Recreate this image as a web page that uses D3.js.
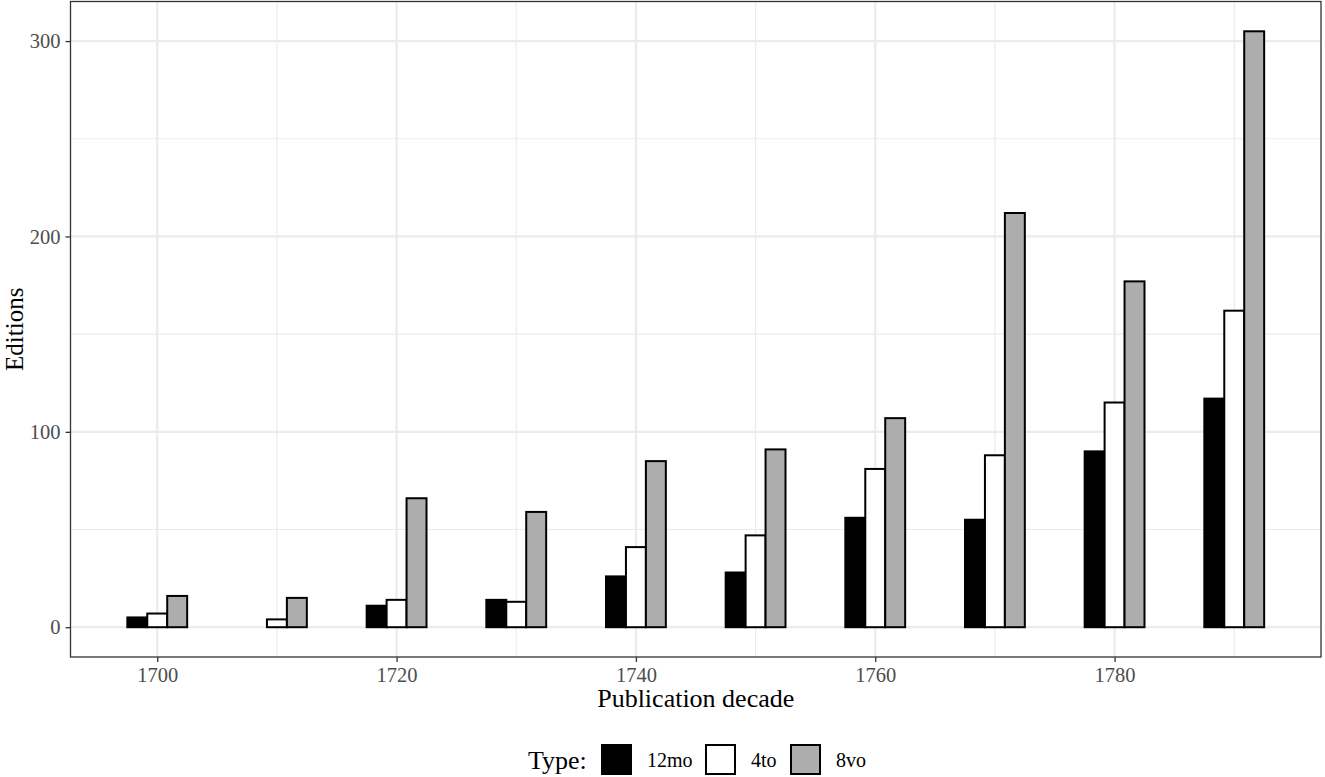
<!DOCTYPE html>
<html><head><meta charset="utf-8">
<script src="https://cdn.jsdelivr.net/npm/d3@7"></script>
<style>body{margin:0;background:#fff;} text{font-family:"Liberation Serif","Times New Roman",serif;}</style>
</head><body>
<svg id="chart" width="1325" height="777"></svg>
<script>
const decades = [1700,1710,1720,1730,1740,1750,1760,1770,1780,1790];
const types = ["12mo","4to","8vo"];
const vals12mo = [5,0,11,14,26,28,56,55,90,117];
const vals4to  = [7,4,14,13,41,47,81,88,115,162];
const vals8vo  = [16,15,66,59,85,91,107,212,177,305];
const xTicks = [1700,1720,1740,1760,1780];
const yTicks = [0,100,200,300];
const fills = {"12mo":"#000000","4to":"#ffffff","8vo":"#adadad"};

const series = {"12mo":vals12mo,"4to":vals4to,"8vo":vals8vo};
const data = [];
decades.forEach((d,i)=>types.forEach((t,j)=>{ if(series[t][i]>0) data.push({decade:d,type:t,j:j,value:series[t][i]}); }));

const svg = d3.select("#chart");
const L=70.5, R=1321, T=1.5, B=657;
const groupW = 5, barW = groupW/3;
const x = d3.scaleLinear().domain([1692.75,1797.25]).range([L,R]);
const y = d3.scaleLinear().domain([-15.25,320.25]).range([B,T]);

// grid
const g = svg.append("g");
const minorX = [1690,1710,1730,1750,1770,1790].filter(v=>v>=1692.75&&v<=1797.25);
const minorY = [50,150,250];
g.selectAll(".mx").data(minorX).enter().append("line").attr("x1",d=>x(d)).attr("x2",d=>x(d)).attr("y1",T).attr("y2",B).attr("stroke","#ebebeb").attr("stroke-width",1.2);
g.selectAll(".my").data(minorY).enter().append("line").attr("y1",d=>y(d)).attr("y2",d=>y(d)).attr("x1",L).attr("x2",R).attr("stroke","#ebebeb").attr("stroke-width",1.2);
g.selectAll(".Mx").data(xTicks).enter().append("line").attr("x1",d=>x(d)).attr("x2",d=>x(d)).attr("y1",T).attr("y2",B).attr("stroke","#ebebeb").attr("stroke-width",2.2);
g.selectAll(".My").data(yTicks).enter().append("line").attr("y1",d=>y(d)).attr("y2",d=>y(d)).attr("x1",L).attr("x2",R).attr("stroke","#ebebeb").attr("stroke-width",2.2);

// bars
svg.append("g").selectAll("rect").data(data).enter().append("rect")
  .attr("x",d=>x(d.decade - groupW/2 + d.j*barW))
  .attr("width",d=>x(d.decade - groupW/2 + (d.j+1)*barW) - x(d.decade - groupW/2 + d.j*barW))
  .attr("y",d=>y(d.value))
  .attr("height",d=>y(0)-y(d.value))
  .attr("fill",d=>fills[d.type]).attr("stroke","#000").attr("stroke-width",2);

// border
svg.append("rect").attr("x",L).attr("y",T).attr("width",R-L).attr("height",B-T).attr("fill","none").attr("stroke","#333").attr("stroke-width",1.3);

// axes
const xAxis = svg.append("g").attr("transform",`translate(0,${B})`).call(d3.axisBottom(x).tickValues(xTicks).tickFormat(d3.format("d")).tickSize(5).tickPadding(5));
const yAxis = svg.append("g").attr("transform",`translate(${L},0)`).call(d3.axisLeft(y).tickValues(yTicks).tickSize(5).tickPadding(5));
[xAxis,yAxis].forEach(a=>{a.attr("font-size",20.5).attr("font-family","'Liberation Serif',serif");a.select(".domain").remove();a.selectAll("line").attr("stroke","#333").attr("stroke-width",1.3);a.selectAll("text").attr("fill","#4d4d4d").style("font-size","20.5px");});

svg.append("text").attr("x",(L+R)/2).attr("y",707).attr("text-anchor","middle").style("font-size","26px").text("Publication decade");
svg.append("text").attr("transform",`translate(23,${(T+B)/2}) rotate(-90)`).attr("text-anchor","middle").style("font-size","25px").text("Editions");

// legend
const lg = svg.append("g");
lg.append("text").attr("x",528).attr("y",769).style("font-size","26px").text("Type:");
const keyX = [602,706,791];
types.forEach((t,i)=>{
  lg.append("rect").attr("x",keyX[i]).attr("y",745).attr("width",29).attr("height",29).attr("fill",fills[t]).attr("stroke","#000").attr("stroke-width",2);
  lg.append("text").attr("x",keyX[i]+45).attr("y",767).style("font-size","20px").text(t);
});
</script>
</body></html>
